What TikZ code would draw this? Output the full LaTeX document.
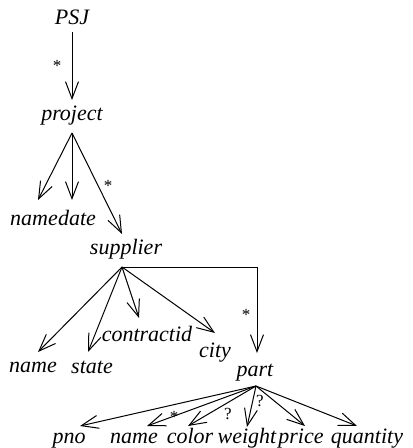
\documentclass[tikz,border=0pt]{standalone}
\usepackage{fontspec}
\setmainfont{Liberation Serif}
\usetikzlibrary{arrows.meta}
\begin{document}
\begin{tikzpicture}[x=1pt,y=-1pt,
  lbl/.style={font=\fontsize{22}{24}\selectfont\itshape, inner sep=0pt, anchor=base},
  tagmark/.style={font=\fontsize{17}{19}\selectfont, inner sep=0pt},
  edge/.style={line width=1pt, -{Straight Barb[length=17pt,width=13pt,line width=1pt]}},
  plain/.style={line width=1pt}]
\useasboundingbox (0,0) rectangle (413,448);
% labels (positions are baselines)
\node[lbl] (psj) at (72,24) {PSJ};
\node[lbl] (project) at (72,120) {project};
\node[lbl] (pname) at (34,225) {name};
\node[lbl] (date) at (77,225) {date};
\node[lbl] (supplier) at (126,254) {supplier};
\node[lbl] (sname) at (33,372) {name};
\node[lbl] (state) at (92,373) {state};
\node[lbl] (contract) at (147,341) {contractid};
\node[lbl] (city) at (215,357) {city};
\node[lbl] (part) at (255,376) {part};
\node[lbl] (pno) at (69,443) {pno};
\node[lbl] (ptname) at (134,443) {name};
\node[lbl] (color) at (190,443) {color};
\node[lbl] (weight) at (247,443) {weight};
\node[lbl] (price) at (301,443) {price};
\node[lbl] (quantity) at (367,443) {quantity};
% apexes and tips
\coordinate (psjA) at (72,32);
\coordinate (projT) at (72,100);
\coordinate (projA) at (72,133);
\coordinate (pnameT) at (38,200);
\coordinate (dateT) at (72,200);
\coordinate (supT) at (122,234);
\coordinate (supA) at (122,267);
\coordinate (corner) at (257,267);
\coordinate (partT) at (257,353);
\coordinate (snameT) at (38,352);
\coordinate (stateT) at (88,352);
\coordinate (contractT) at (139,318);
\coordinate (cityT) at (215,333);
\coordinate (partA) at (256,386);
\coordinate (pnoT) at (80,426);
\coordinate (ptnameT) at (147,426);
\coordinate (colorT) at (188,426);
\coordinate (weightT) at (247,427);
\coordinate (priceT) at (305,426);
\coordinate (quantityT) at (357,426);
% connectors
\draw[edge] (psjA) -- (projT);
\draw[edge] (projA) -- (pnameT);
\draw[edge] (projA) -- (dateT);
\draw[edge] (projA) -- (supT);
\draw[plain] (supA) -- (corner);
\draw[edge] (corner) -- (partT);
\draw[edge] (supA) -- (snameT);
\draw[edge] (supA) -- (stateT);
\draw[edge] (supA) -- (contractT);
\draw[edge] (supA) -- (cityT);
\draw[edge] (partA) -- (pnoT);
\draw[edge] (partA) -- (ptnameT);
\draw[edge] (partA) -- (colorT);
\draw[edge] (partA) -- (weightT);
\draw[edge] (partA) -- (priceT);
\draw[edge] (partA) -- (quantityT);
% marks
\node[tagmark] (s1) at (57,66) {*};
\node[tagmark] (s2) at (108,186) {*};
\node[tagmark] (s3) at (246,315) {*};
\node[tagmark] (s4) at (174,417) {*};
\node[tagmark] (q1) at (228,414) {?};
\node[tagmark] (q2) at (260,401) {?};
\end{tikzpicture}
\end{document}
